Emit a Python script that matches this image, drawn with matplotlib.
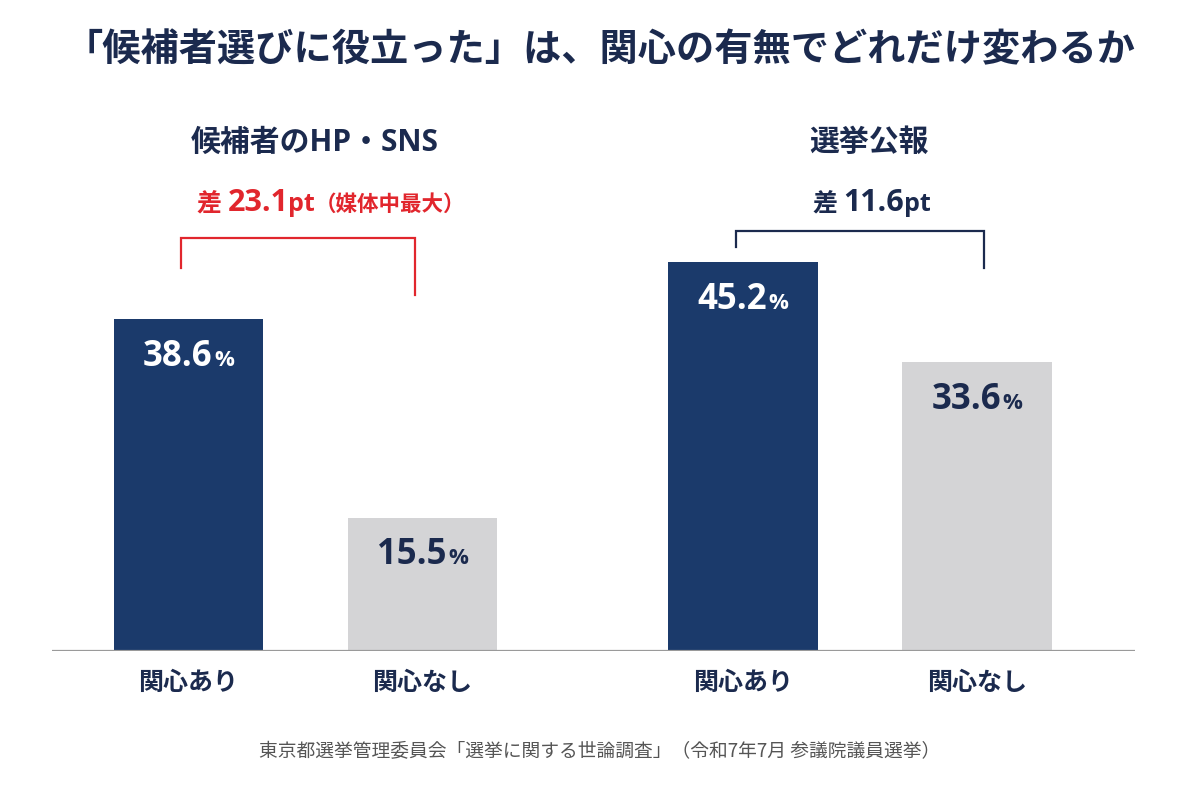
import matplotlib
matplotlib.use("Agg")
import matplotlib.pyplot as plt
import matplotlib.transforms as mtransforms
from matplotlib.offsetbox import TextArea, HPacker, AnnotationBbox

# ---- data ----
title = "「候補者選びに役立った」は、関心の有無でどれだけ変わるか"
groups = ["候補者のHP・SNS", "選挙公報"]
categories = ["関心あり", "関心なし"]
with_interest = [38.6, 45.2]
without_interest = [15.5, 33.6]
diff_values = [23.1, 11.6]
diff_notes = ["（媒体中最大）", ""]
source = "東京都選挙管理委員会「選挙に関する世論調査」（令和7年7月 参議院議員選挙）"

FONT = ["Noto Sans CJK JP", "DejaVu Sans"]
LATIN = ["Open Sans", "Noto Sans CJK JP", "DejaVu Sans"]
plt.rcParams["font.family"] = FONT

NAVY = "#1b3a6b"
GRAY = "#d4d4d6"
TEXT = "#1b2a4e"
RED = "#e1262d"
FOOT = "#555555"

fig = plt.figure(figsize=(12, 8), dpi=100)
fig.patch.set_facecolor("white")
ax = fig.add_axes([52 / 1200, 149 / 800, (1135 - 52) / 1200, (651 - 100) / 800])
ax.set_xlim(-0.583, 4.045)
ax.set_ylim(0, 551 / 8.6)
ax.axis("off")

group_offset = 2.37
width = 0.64
xs, vals, cols, tcols, labs = [], [], [], [], []
for g in range(len(groups)):
    for i, v in enumerate([with_interest[g], without_interest[g]]):
        xs.append(g * group_offset + i)
        vals.append(v)
        cols.append(NAVY if i == 0 else GRAY)
        tcols.append("white" if i == 0 else TEXT)
        labs.append(categories[i])

ax.bar(xs, vals, width=width, color=cols, zorder=2)
ax.axhline(0, color="#9a9a9a", lw=1.6, zorder=3)

# value labels
for x, v, tc in zip(xs, vals, tcols):
    box = HPacker(children=[
        TextArea(f"{v:.1f}", textprops=dict(fontsize=25, fontweight="bold", color=tc, family=LATIN)),
        TextArea("%", textprops=dict(fontsize=16, fontweight="bold", color=tc, family=LATIN)),
    ], align="baseline", pad=0, sep=1)
    ab = AnnotationBbox(box, (x, v), xybox=(0, -27), boxcoords="offset points",
                        frameon=False, box_alignment=(0.5, 0.5))
    ax.add_artist(ab)

# category labels
for x, lab in zip(xs, labs):
    ax.annotate(lab, (x, 0), xytext=(0, -23), textcoords="offset points",
                ha="center", va="center", fontsize=18, fontweight="bold", color=TEXT)

blend = mtransforms.blended_transform_factory(ax.transData, fig.transFigure)

# group titles, difference labels, brackets
bracket_top = [48.0, 48.8]
leg_bottom = [(44.5, 41.4), (47.0, 44.5)]
leg_dx = [(-0.03, -0.03), (-0.03, 0.03)]
label_dx = [0.11, 0.05]
for g, gname in enumerate(groups):
    x0 = g * group_offset
    x1 = x0 + 1
    cx = (x0 + x1) / 2
    col = RED if g == 0 else TEXT
    t = fig.text(0, 0, gname, transform=blend, fontsize=21.5, fontweight="bold", color=TEXT,
                 ha="center", va="center", family=LATIN)
    t.set_position((cx + 0.04, 1 - 143 / 800))
    children = [
        TextArea("差 ", textprops=dict(fontsize=18, fontweight="bold", color=col, family=FONT)),
        TextArea(f"{diff_values[g]:.1f}", textprops=dict(fontsize=22, fontweight="bold", color=col, family=LATIN)),
        TextArea("pt", textprops=dict(fontsize=18, fontweight="bold", color=col, family=LATIN)),
    ]
    if diff_notes[g]:
        children.append(TextArea(diff_notes[g], textprops=dict(fontsize=15.5, fontweight="bold", color=col, family=FONT)))
    box = HPacker(children=children, align="baseline", pad=0, sep=0)
    ab = AnnotationBbox(box, (cx + label_dx[g], 1 - 203 / 800), xycoords=blend,
                        frameon=False, box_alignment=(0.5, 0.5))
    ax.add_artist(ab)
    lx = x0 + leg_dx[g][0]
    rx = x1 + leg_dx[g][1]
    ax.plot([lx, lx, rx, rx], [leg_bottom[g][0], bracket_top[g], bracket_top[g], leg_bottom[g][1]],
            color=col, lw=1.6, solid_joinstyle="miter", clip_on=False)

fig.text(0.5, 1 - 50 / 800, title, ha="center", va="center", fontsize=27.5,
         fontweight="bold", color=TEXT)
fig.text(0.5, 1 - 752 / 800, source, ha="center", va="center", fontsize=13.5, color=FOOT)

fig.savefig("out.png", dpi=100, facecolor="white")
